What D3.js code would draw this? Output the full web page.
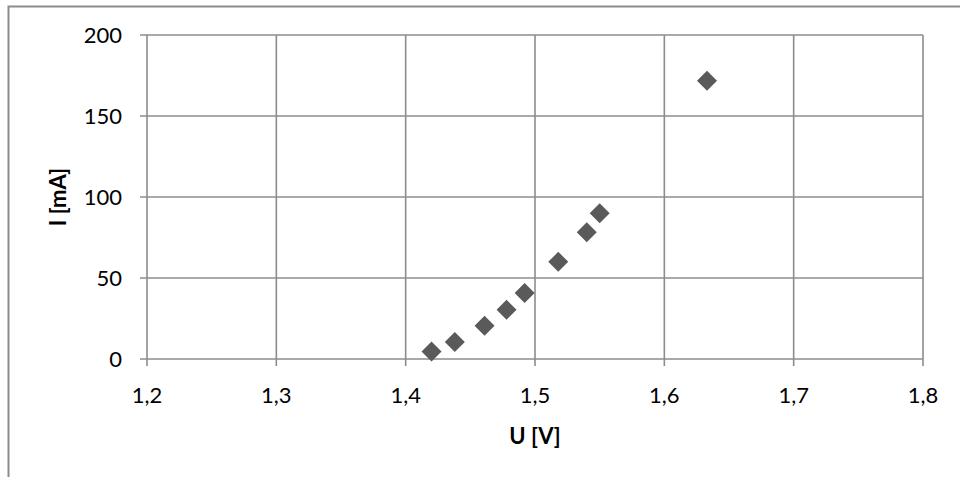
<!DOCTYPE html>
<html lang="en">
<head>
<meta charset="utf-8">
<script src="https://d3js.org/d3.v7.min.js"></script>
<style>
    body { margin: 0; background: #fff; }
    text { font-family: Lato, "Open Sans", sans-serif; fill: #000; }
</style>
</head>
<body>
<div id="chart"></div>
<script>
    // measured points
    var uValues = [1.420, 1.438, 1.461, 1.478, 1.492, 1.518, 1.540, 1.550, 1.633];
    var iValues = [4.7, 10.5, 20.5, 30.4, 40.7, 60, 78.3, 90, 171.8];
    var xTicks = [1.2, 1.3, 1.4, 1.5, 1.6, 1.7, 1.8];
    var yTicks = [0, 50, 100, 150, 200];

    var W = 960, H = 477;
    var margin = { top: 35, right: 37, bottom: 118, left: 147 },
        width = W - margin.left - margin.right,
        height = H - margin.top - margin.bottom;

    var svg = d3.select("#chart").append("svg")
        .attr("width", W).attr("height", H);

    // chart frame (cropped on right and bottom)
    svg.append("path")
        .attr("d", "M8.5," + H + "V6.5H" + W)
        .attr("fill", "none").attr("stroke", "#8c8c8c").attr("stroke-width", 2);

    var g = svg.append("g")
        .attr("transform", "translate(" + margin.left + "," + margin.top + ")");

    var x = d3.scaleLinear().domain([1.2, 1.8]).range([0, width]);
    var y = d3.scaleLinear().domain([0, 200]).range([height, 0]);

    var fmt = function (d) { return d3.format(".1f")(d).replace(".", ","); };

    // grid
    g.selectAll(".vgrid").data(xTicks).enter().append("line")
        .attr("x1", d => x(d)).attr("x2", d => x(d))
        .attr("y1", 0).attr("y2", height + 7)
        .attr("stroke", "#8c8c8c").attr("stroke-width", 1.6);
    g.selectAll(".hgrid").data(yTicks).enter().append("line")
        .attr("x1", -7).attr("x2", width)
        .attr("y1", d => y(d)).attr("y2", d => y(d))
        .attr("stroke", "#8c8c8c").attr("stroke-width", 1.6);

    // tick labels
    g.selectAll(".xl").data(xTicks).enter().append("text")
        .attr("x", d => x(d)).attr("y", height + 36).attr("dy", "0.36em")
        .attr("text-anchor", "middle").attr("font-size", 22)
        .text(fmt);
    g.selectAll(".yl").data(yTicks).enter().append("text")
        .attr("x", -25).attr("y", d => y(d)).attr("dy", "0.36em")
        .attr("text-anchor", "end").attr("font-size", 22)
        .text(d => d);

    // axis titles
    g.append("text")
        .attr("x", x(1.5)).attr("y", height + 77).attr("dy", "0.36em")
        .attr("text-anchor", "middle").attr("font-size", 22).attr("font-weight", "bold")
        .text("U [V]");
    g.append("text")
        .attr("transform", "translate(" + (-89) + "," + (height / 2) + ") rotate(-90)")
        .attr("dy", "0.36em")
        .attr("text-anchor", "middle").attr("font-size", 22).attr("font-weight", "bold")
        .text("I [mA]");

    // markers
    var data = uValues.map((u, i) => ({ u: u, i: iValues[i] }));
    g.selectAll(".pt").data(data).enter().append("path")
        .attr("d", d3.symbol().type(d3.symbolSquare).size(200))
        .attr("transform", d => "translate(" + x(d.u) + "," + y(d.i) + ") rotate(45)")
        .attr("fill", "#5a5a5a");
</script>
</body>
</html>
